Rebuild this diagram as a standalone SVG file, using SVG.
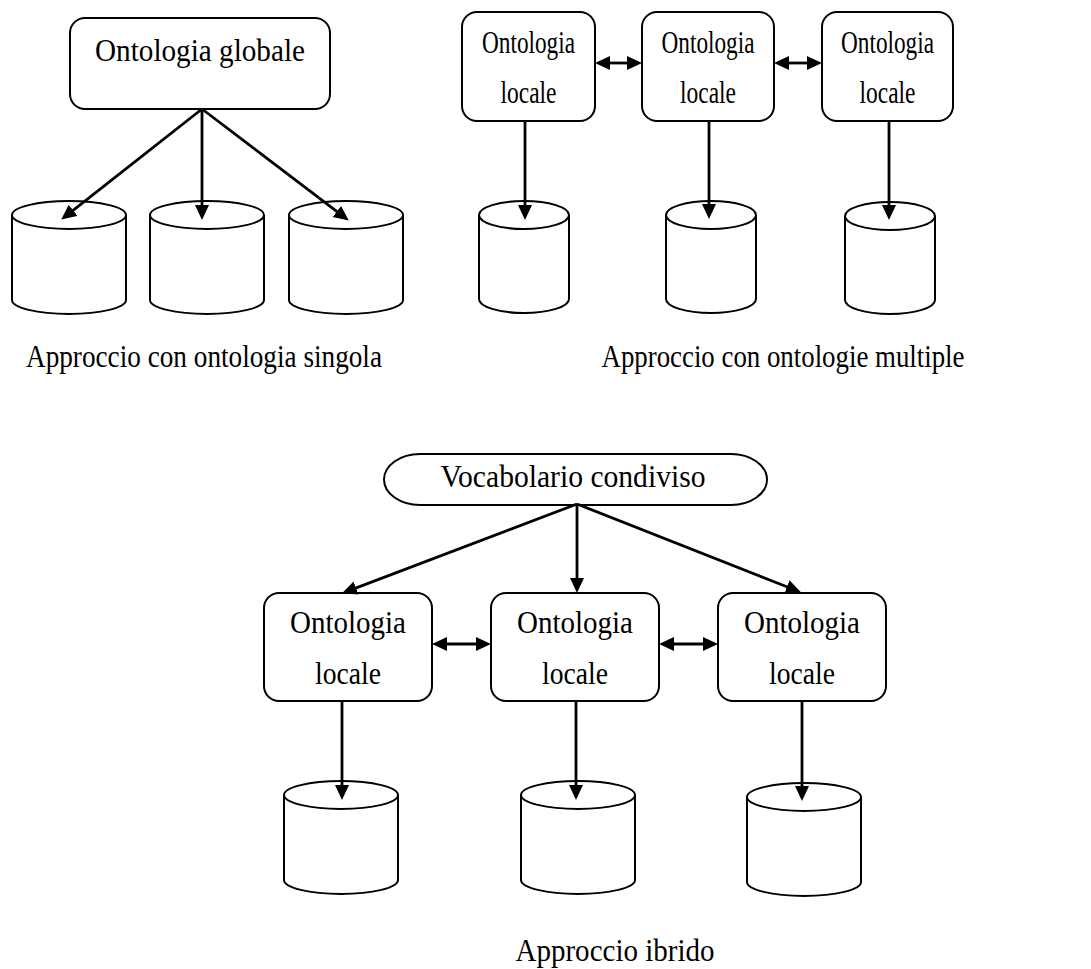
<svg xmlns="http://www.w3.org/2000/svg" width="1091" height="969" viewBox="0 0 1091 969">
  <style>
    .box { fill: #fff; stroke: #000; stroke-width: 2; }
    .db { fill: #fff; stroke: #000; stroke-width: 2; }
    .lbl { font-family: "Liberation Serif", "Times New Roman", serif; font-size: 31px; fill: #000; text-anchor: middle; }
    .edge { fill: none; stroke: #000; stroke-width: 2.8; }
    .one { marker-end: url(#head); }
    .two { marker-start: url(#head); marker-end: url(#head); }
  </style>
  <defs>
    <marker id="head" markerUnits="userSpaceOnUse" markerWidth="16" markerHeight="15" refX="4" refY="7" orient="auto-start-reverse" viewBox="0 0 16 15">
      <path d="M0,0 L15,7 L0,14 z" fill="#000"/>
    </marker>
    <!-- database cylinder, 114 wide, top ellipse centre at y=0 -->
    <g id="cyl">
      <path class="db" d="M0,0 L0,85 A57,14 0 0 0 114,85 L114,0"/>
      <ellipse class="db" cx="57" cy="0" rx="57" ry="14"/>
    </g>
    <g id="cylNarrow">
      <path class="db" d="M0,0 L0,84 A45,14 0 0 0 90,84 L90,0"/>
      <ellipse class="db" cx="45" cy="0" rx="45" ry="14"/>
    </g>
  </defs>

  <!-- single ontology approach -->
  <g id="global-ontology">
    <rect class="box" x="70" y="18" width="260" height="91" rx="15"/>
    <text class="lbl" x="200" y="61" textLength="210" lengthAdjust="spacingAndGlyphs">Ontologia globale</text>
  </g>
  <g id="src-1a"><use href="#cyl" x="12" y="215"/></g>
  <g id="src-1b"><use href="#cyl" x="150" y="215"/></g>
  <g id="src-1c"><use href="#cyl" x="289" y="215"/></g>
  <text id="caption-single" class="lbl" x="204" y="367" textLength="356" lengthAdjust="spacingAndGlyphs">Approccio con ontologia singola</text>

  <!-- multiple ontologies approach -->
  <g id="local-2a">
    <rect class="box" x="462" y="12" width="133" height="109" rx="15"/>
    <text class="lbl" x="528.5" y="53" textLength="93" lengthAdjust="spacingAndGlyphs">Ontologia</text>
    <text class="lbl" x="528.5" y="103" textLength="56" lengthAdjust="spacingAndGlyphs">locale</text>
  </g>
  <g id="local-2b">
    <rect class="box" x="642" y="12" width="132" height="109" rx="15"/>
    <text class="lbl" x="708" y="53" textLength="93" lengthAdjust="spacingAndGlyphs">Ontologia</text>
    <text class="lbl" x="708" y="103" textLength="56" lengthAdjust="spacingAndGlyphs">locale</text>
  </g>
  <g id="local-2c">
    <rect class="box" x="822" y="12" width="131" height="109" rx="15"/>
    <text class="lbl" x="887.5" y="53" textLength="93" lengthAdjust="spacingAndGlyphs">Ontologia</text>
    <text class="lbl" x="887.5" y="103" textLength="56" lengthAdjust="spacingAndGlyphs">locale</text>
  </g>
  <g id="src-2a"><use href="#cylNarrow" x="479" y="215"/></g>
  <g id="src-2b"><use href="#cylNarrow" x="666" y="215"/></g>
  <g id="src-2c"><use href="#cylNarrow" x="845" y="216"/></g>
  <text id="caption-multiple" class="lbl" x="783" y="367" textLength="363" lengthAdjust="spacingAndGlyphs">Approccio con ontologie multiple</text>

  <!-- hybrid approach -->
  <g id="shared-vocabulary">
    <rect class="box" x="384" y="454" width="383" height="51" rx="36" ry="25.5"/>
    <text class="lbl" x="573" y="487" textLength="265" lengthAdjust="spacingAndGlyphs">Vocabolario condiviso</text>
  </g>
  <g id="local-3a">
    <rect class="box" x="264" y="593" width="168" height="108" rx="15"/>
    <text class="lbl" x="348" y="633" textLength="116" lengthAdjust="spacingAndGlyphs">Ontologia</text>
    <text class="lbl" x="348" y="684" textLength="66" lengthAdjust="spacingAndGlyphs">locale</text>
  </g>
  <g id="local-3b">
    <rect class="box" x="491" y="593" width="168" height="108" rx="15"/>
    <text class="lbl" x="575" y="633" textLength="116" lengthAdjust="spacingAndGlyphs">Ontologia</text>
    <text class="lbl" x="575" y="684" textLength="66" lengthAdjust="spacingAndGlyphs">locale</text>
  </g>
  <g id="local-3c">
    <rect class="box" x="718" y="593" width="168" height="108" rx="15"/>
    <text class="lbl" x="802" y="633" textLength="116" lengthAdjust="spacingAndGlyphs">Ontologia</text>
    <text class="lbl" x="802" y="684" textLength="66" lengthAdjust="spacingAndGlyphs">locale</text>
  </g>
  <g id="src-3a"><use href="#cyl" x="284" y="795"/></g>
  <g id="src-3b"><use href="#cyl" x="521" y="795"/></g>
  <g id="src-3c"><use href="#cyl" x="747" y="797"/></g>
  <text id="caption-hybrid" class="lbl" x="615" y="961" textLength="199" lengthAdjust="spacingAndGlyphs">Approccio ibrido</text>

  <g id="connectors">
    <!-- global ontology to sources -->
    <line class="edge one" x1="202" y1="109" x2="69.9" y2="212.8"/>
    <line class="edge one" x1="202" y1="109" x2="202" y2="209"/>
    <line class="edge one" x1="202" y1="109" x2="340" y2="213.9"/>
    <!-- local ontologies to sources -->
    <line class="edge one" x1="525" y1="121" x2="525" y2="209"/>
    <line class="edge one" x1="709" y1="121" x2="709" y2="208"/>
    <line class="edge one" x1="889" y1="121" x2="889" y2="209"/>
    <!-- mappings between local ontologies -->
    <line class="edge two" x1="606" y1="63" x2="631" y2="63"/>
    <line class="edge two" x1="785" y1="63" x2="811" y2="63"/>
    <!-- shared vocabulary to local ontologies -->
    <line class="edge one" x1="577" y1="504" x2="352.3" y2="589.4"/>
    <line class="edge one" x1="577" y1="504" x2="577" y2="582"/>
    <line class="edge one" x1="577" y1="504" x2="790.7" y2="588.3"/>
    <line class="edge two" x1="443" y1="644" x2="480" y2="644"/>
    <line class="edge two" x1="670" y1="644" x2="707" y2="644"/>
    <!-- hybrid local ontologies to sources -->
    <line class="edge one" x1="342" y1="701" x2="342" y2="789"/>
    <line class="edge one" x1="576" y1="701" x2="576" y2="789"/>
    <line class="edge one" x1="802" y1="701" x2="802" y2="790"/>
  </g>
</svg>
